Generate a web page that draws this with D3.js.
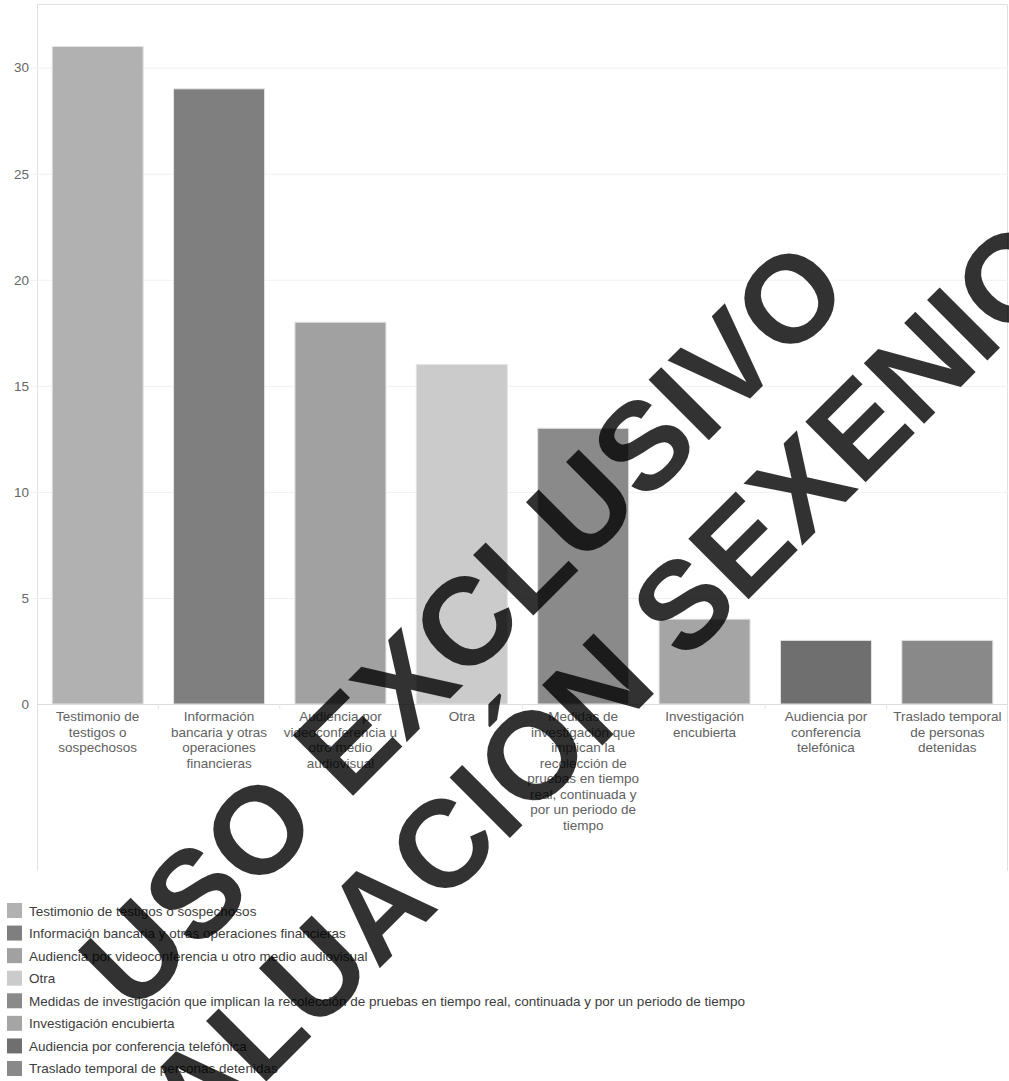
<!DOCTYPE html>
<html><head><meta charset="utf-8">
<script src="https://cdn.jsdelivr.net/npm/d3@7"></script>
<style>
html,body{margin:0;padding:0;background:#fff;}
svg{display:block;font-family:"Liberation Sans",Arial,sans-serif;}
</style></head>
<body>
<script>
const categories = [
  "Testimonio de testigos o sospechosos",
  "Información bancaria y otras operaciones financieras",
  "Audiencia por videoconferencia u otro medio audiovisual",
  "Otra",
  "Medidas de investigación que implican la recolección de pruebas en tiempo real, continuada y por un periodo de tiempo",
  "Investigación encubierta",
  "Audiencia por conferencia telefónica",
  "Traslado temporal de personas detenidas"
];
const values = [31, 29, 18, 16, 13, 4, 3, 3];
const colors = ["#b1b1b1", "#7f7f7f", "#a1a1a1", "#cbcbcb", "#8a8a8a", "#a5a5a5", "#6f6f6f", "#898989"];
const yTicks = [0, 5, 10, 15, 20, 25, 30];
const watermarkLines = ["USO EXCLUSIVO", "EVALUACIÓN SEXENIO"];

(function () {
const W = 1009, H = 1081;
const svg = d3.select("body").append("svg").attr("width", W).attr("height", H);
const FS = 13.5;

const pLeft = 37, pRight = 1008, pTop = 4, base = 704, frameBottom = 871;
const x = d3.scaleBand().domain(categories).range([pLeft, pRight]).paddingInner(0.25).paddingOuter(0.125);
const y = d3.scaleLinear().domain([0, 33]).range([base, pTop]);

// frame
svg.append("path").attr("d", `M${pLeft + 0.5},${frameBottom}V${pTop + 0.5}H${pRight - 0.5}V${frameBottom}`)
  .attr("fill", "none").attr("stroke", "#e0e0e0").attr("stroke-width", 1);

// gridlines
svg.append("g").selectAll("line").data(yTicks.filter(d => d > 0)).join("line")
  .attr("x1", pLeft - 6).attr("x2", pRight).attr("y1", d => y(d) + 0.5).attr("y2", d => y(d) + 0.5)
  .attr("stroke", "#f0f0f0");

// y axis labels
const yAxis = d3.axisLeft(y).tickValues(yTicks).tickSize(0).tickPadding(8);
const gy = svg.append("g").attr("transform", `translate(${pLeft},0)`).call(yAxis);
gy.select(".domain").remove();
gy.selectAll("text").attr("font-size", FS).attr("fill", "#666").attr("font-family", "Liberation Sans, Arial, sans-serif");

// bars
svg.append("g").selectAll("rect").data(values).join("rect")
  .attr("x", (d, i) => x(categories[i]))
  .attr("y", d => y(d))
  .attr("width", x.bandwidth())
  .attr("height", d => base - y(d))
  .attr("fill", (d, i) => colors[i])
  .attr("stroke", "#e4e4e4").attr("stroke-width", 1);

// x axis line and ticks
svg.append("line").attr("x1", pLeft).attr("x2", pRight).attr("y1", base + 0.5).attr("y2", base + 0.5).attr("stroke", "#dcdcdc");
svg.append("g").selectAll("line").data(d3.range(1, categories.length)).join("line")
  .attr("x1", i => pLeft + i * x.step())
  .attr("x2", i => pLeft + i * x.step())
  .attr("y1", base).attr("y2", base + 5).attr("stroke", "#e6e6e6");

// x labels with wrapping
const maxW = 114;
const lh = 15.5;
const labG = svg.append("g");
categories.forEach((c, i) => {
  const cx = x(c) + x.bandwidth() / 2;
  const t = labG.append("text").attr("x", cx).attr("y", 721).attr("text-anchor", "middle")
    .attr("font-size", FS).attr("fill", "#616161");
  const words = c.split(" ");
  let line = [], lineNo = 0;
  let ts = t.append("tspan").attr("x", cx).attr("y", 721);
  words.forEach(w => {
    line.push(w);
    ts.text(line.join(" "));
    if (ts.node().getComputedTextLength() > maxW && line.length > 1) {
      line.pop();
      ts.text(line.join(" "));
      line = [w];
      lineNo++;
      ts = t.append("tspan").attr("x", cx).attr("y", 721 + lineNo * lh).text(w);
    }
  });
});

// legend
const lg = svg.append("g");
categories.forEach((c, i) => {
  const yy = 903 + i * 22.57;
  lg.append("rect").attr("x", 7).attr("y", yy).attr("width", 15).attr("height", 15).attr("fill", colors[i]);
  lg.append("text").attr("x", 29).attr("y", yy + 12.5).attr("font-size", FS).attr("fill", "#3c3c3c").text(c);
});

// watermark
const wm = svg.append("g").attr("opacity", 0.8);
const wmPos = [[463, 625], [550, 737]];
watermarkLines.forEach((t, i) => {
  wm.append("text").attr("transform", `translate(${wmPos[i][0]},${wmPos[i][1]}) rotate(-45)`)
    .attr("text-anchor", "middle").attr("dominant-baseline", "central")
    .attr("font-size", 124).attr("font-weight", "bold").attr("fill", "#000")
    .attr("font-family", "Liberation Sans, Arial, sans-serif")
    .text(t);
});
})();
</script>
</body></html>
